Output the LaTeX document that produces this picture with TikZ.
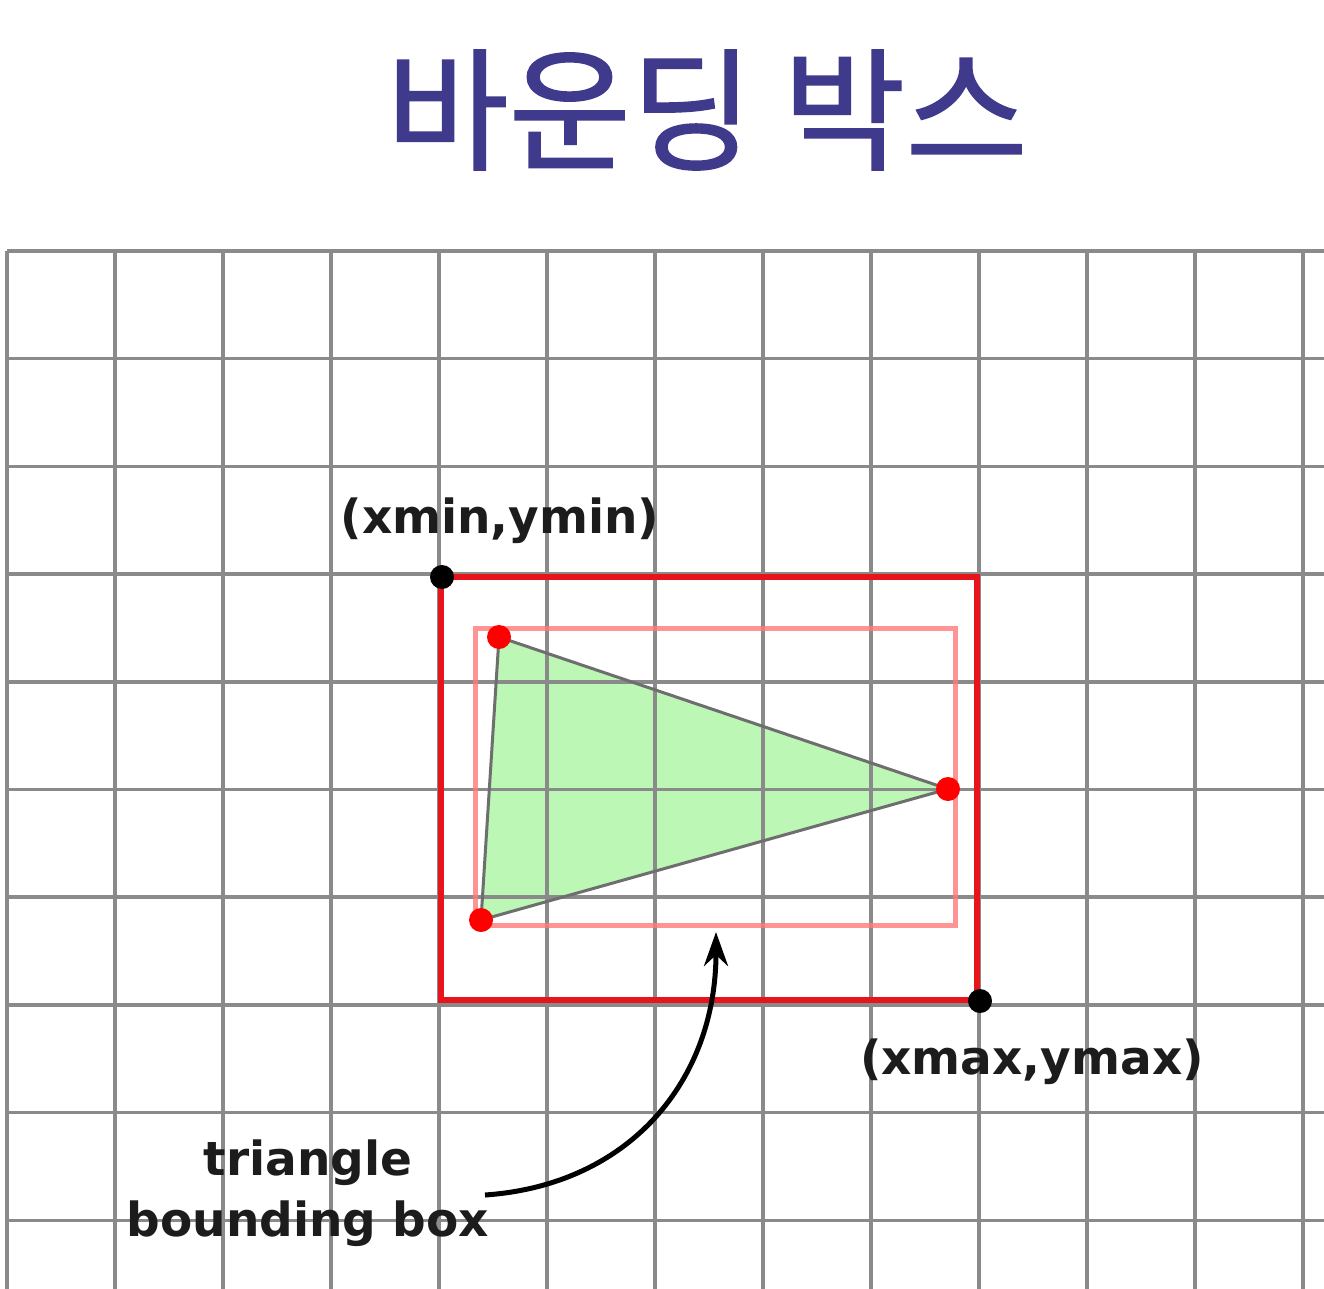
\documentclass[tikz,border=0pt]{standalone}
\usepackage{fontspec}
\usetikzlibrary{arrows.meta}
\newfontfamily\cjk[FakeBold=1.2]{Noto Sans CJK KR}
\newfontfamily\labfont{DejaVu Sans}
\definecolor{titleblue}{HTML}{3F3A8C}
\definecolor{gridgray}{HTML}{8A8A8A}
\definecolor{boxred}{HTML}{E8141B}
\definecolor{pinkred}{HTML}{FF7A7A}
\definecolor{trigreen}{HTML}{BCF7B6}
\definecolor{triedge}{HTML}{6E6E6E}
\definecolor{labelblack}{HTML}{1C1C1C}
\tikzset{
  gridline/.style={draw=gridgray, line width=3.5pt},
  outerbox/.style={draw=boxred, line width=6pt},
  innerbox/.style={draw=pinkred, line width=5pt, opacity=0.8},
  reddot/.style={circle, fill=red, inner sep=0pt, minimum size=24pt},
  blackdot/.style={circle, fill=black, inner sep=0pt, minimum size=24pt},
  coordlabel/.style={inner sep=0pt, text=labelblack, font=\labfont\bfseries\fontsize{47pt}{56pt}\selectfont},
  notelabel/.style={inner sep=0pt, align=center, text=labelblack, font=\labfont\bfseries\fontsize{47pt}{61pt}\selectfont},
  curvedarrow/.style={draw=black, line width=5pt, -{Stealth[length=34pt,width=24pt]}},
}
\begin{document}
\begin{tikzpicture}[x=1pt, y=-1pt]
\useasboundingbox (0,0) rectangle (1324,1289);
\fill[white] (0,0) rectangle (1324,1289);
% title
\node[inner sep=0pt, text=titleblue, font=\cjk\fontsize{133pt}{140pt}\selectfont] (title) at (707,110) {바운딩 박스};
% triangle fill
\coordinate (ta) at (499,637);
\coordinate (tb) at (948,789);
\coordinate (tc) at (481,920);
\fill[trigreen] (ta) -- (tb) -- (tc) -- cycle;
% grid
\foreach \i in {0,...,12} {
  \draw[gridline] ({7+108*\i},251) -- ({7+108*\i},1289);
}
\foreach \j in {0,...,9} {
  \draw[gridline] (7,{251+107.7*\j}) -- (1324,{251+107.7*\j});
}
% triangle outline
\draw[draw=triedge, line width=3pt, line join=round] (ta) -- (tb) -- (tc) -- cycle;
% inner (tight) box
\draw[innerbox] (475,628) rectangle (955,925);
% outer box
\coordinate (bmin) at (441,577);
\coordinate (bmax) at (977,1000);
\draw[outerbox] (bmin) rectangle (bmax);
% vertices
\node[reddot] (va) at (ta) {};
\node[reddot] (vb) at (tb) {};
\node[reddot] (vc) at (tc) {};
% corner dots
\node[blackdot] (pmin) at (442,577) {};
\node[blackdot] (pmax) at (980,1001) {};
% labels
\node[coordlabel] (lmin) at (500,521) {(xmin,ymin)};
\node[coordlabel] (lmax) at (1032,1062) {(xmax,ymax)};
\node[notelabel] (note) at (308,1193) {triangle\\bounding box};
% arrow
\coordinate (astart) at (485,1195);
\coordinate (atip) at (716,932);
\draw[curvedarrow] (astart) .. controls (630,1185) and (716,1080) .. (atip);
\end{tikzpicture}
\end{document}
